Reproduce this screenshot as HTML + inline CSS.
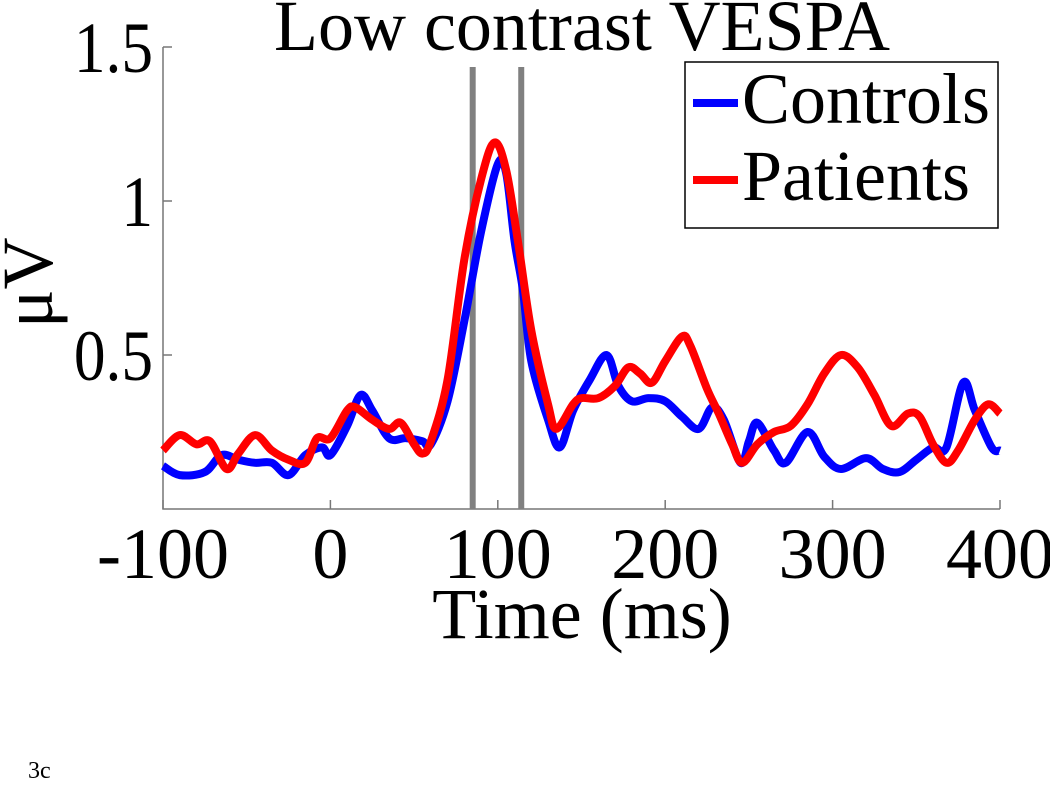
<!DOCTYPE html>
<html><head><meta charset="utf-8"><style>
html,body{margin:0;padding:0;background:#fff;}
svg{display:block;font-family:"Liberation Serif",serif;}
</style></head><body>
<svg id="chart" width="1050" height="800" viewBox="0 0 1050 800">
<g id="axes"></g>
<g id="marks"></g>
<text x="582" y="50" font-size="72" text-anchor="middle">Low contrast VESPA</text>
<text x="582" y="638" font-size="72" text-anchor="middle">Time (ms)</text>
<text transform="translate(52,328) rotate(-90)" font-size="72" text-anchor="start">μV</text>
<text x="28" y="778" font-size="24">3c</text>
<g>
<rect x="685" y="62" width="313" height="166" fill="#fff" stroke="#000" stroke-width="1.5"/>
<line x1="693" y1="103" x2="738" y2="103" stroke="#0000ff" stroke-width="8"/>
<text x="742" y="123" font-size="72">Controls</text>
<line x1="693" y1="180" x2="738" y2="180" stroke="#ff0000" stroke-width="8"/>
<text x="742" y="200" font-size="72">Patients</text>
</g>
</svg>
<script>
const xTicks=[-100,0,100,200,300,400];
const yTicks=[0.5,1,1.5];
const yTickLabels=["0.5","1","1.5"];
const markers=[85,114];
const ctrlT=[-100,-90,-75,-65,-55,-45,-35,-25,-15,-5,0,10,18,25,35,45,55,60,70,80,90,100,105,110,115,120,130,137,145,155,165,172,180,190,200,210,220,228,235,245,250,255,265,272,285,295,305,320,330,340,350,360,368,378,385,395,400];
const ctrlV=[0.14,0.11,0.12,0.175,0.16,0.15,0.15,0.11,0.175,0.2,0.175,0.27,0.37,0.32,0.23,0.23,0.22,0.21,0.35,0.61,0.9,1.12,1.09,0.87,0.71,0.48,0.29,0.2,0.32,0.42,0.5,0.4,0.35,0.36,0.35,0.3,0.26,0.33,0.29,0.15,0.22,0.28,0.19,0.15,0.25,0.17,0.13,0.165,0.13,0.12,0.16,0.2,0.2,0.41,0.32,0.2,0.19];
const patT=[-100,-90,-80,-72,-62,-55,-45,-35,-25,-15,-8,0,10,15,25,35,42,50,55,60,70,80,90,98,105,112,120,130,135,145,150,160,170,178,185,192,200,210,215,225,232,240,246,255,265,275,285,295,305,315,325,335,345,352,360,368,375,385,393,400];
const patV=[0.19,0.24,0.21,0.22,0.13,0.18,0.24,0.19,0.16,0.15,0.23,0.23,0.32,0.33,0.29,0.26,0.28,0.21,0.18,0.22,0.42,0.81,1.07,1.19,1.1,0.87,0.58,0.34,0.26,0.34,0.36,0.36,0.4,0.46,0.44,0.41,0.48,0.56,0.53,0.39,0.31,0.21,0.15,0.21,0.25,0.27,0.34,0.44,0.5,0.46,0.37,0.27,0.31,0.3,0.21,0.15,0.19,0.29,0.34,0.31];
const X=t=>163+(t+100)*1.674;
const Y=v=>509-v*308;
const NS="http://www.w3.org/2000/svg";
const axes=document.getElementById('axes'),marks=document.getElementById('marks');
function mk(tag,a,p){const e=document.createElementNS(NS,tag);for(const k in a)e.setAttribute(k,a[k]);p.appendChild(e);return e;}
let sp=mk('path',{d:`M${X(-100)},${Y(1.5)}V${Y(0)}H${X(400)}`,fill:'none',stroke:'#777','stroke-width':1.5},axes);


xTicks.forEach(t=>{
 let l=mk('line',{x1:X(t),x2:X(t),y1:Y(0),y2:Y(0)-9,stroke:'#777','stroke-width':1.5},axes);
 
 
 let tx=mk('text',{x:X(t),y:578,'font-size':72,'text-anchor':'middle'},axes);tx.textContent=t;
 
 
});
yTicks.forEach((v,i)=>{
 let l=mk('line',{x1:X(-100),x2:X(-100)+9,y1:Y(v),y2:Y(v),stroke:'#777','stroke-width':1.5},axes);
 
 
 let tx=mk('text',{x:153,y:Y(v)+25,'font-size':72,'text-anchor':'end',transform:`translate(153,0) scale(0.88,1) translate(-153,0)`},axes);tx.textContent=yTickLabels[i];
 
 
});
markers.forEach(t=>{
 let l=mk('line',{x1:X(t),x2:X(t),y1:Y(1.5)+20,y2:Y(0),stroke:'#808080','stroke-width':6},marks);
 
 
});
function smooth(ts,vs){const p=ts.map((t,i)=>[X(t),Y(vs[i])]);let d=`M${p[0][0]},${p[0][1]}`;
 for(let i=0;i<p.length-1;i++){const p0=p[Math.max(0,i-1)],p1=p[i],p2=p[i+1],p3=p[Math.min(p.length-1,i+2)];
 d+=`C${p1[0]+(p2[0]-p0[0])/6},${p1[1]+(p2[1]-p0[1])/6} ${p2[0]-(p3[0]-p1[0])/6},${p2[1]-(p3[1]-p1[1])/6} ${p2[0]},${p2[1]}`;}return d;}
let c=mk('path',{d:smooth(ctrlT,ctrlV),fill:'none',stroke:'#0000ff','stroke-width':8,'stroke-linejoin':'round'},marks);


let pt=mk('path',{d:smooth(patT,patV),fill:'none',stroke:'#ff0000','stroke-width':8,'stroke-linejoin':'round'},marks);


</script>
</body></html>
